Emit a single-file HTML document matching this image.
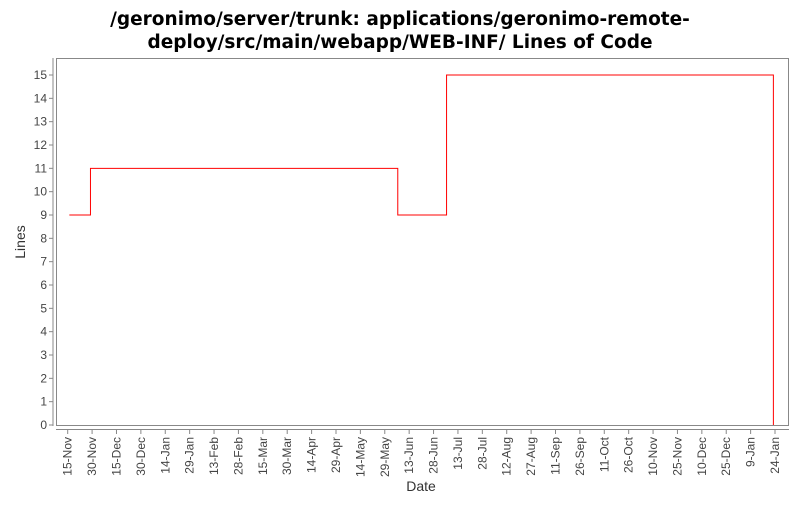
<!DOCTYPE html>
<html><head><meta charset="utf-8"><style>
body{margin:0;background:#fff;width:800px;height:500px;overflow:hidden;font-family:"Liberation Sans","DejaVu Sans",sans-serif}
</style></head><body>
<svg width="800" height="500" id="chart">
<text x="400" y="25" text-anchor="middle" font-size="18.5" font-weight="bold" font-family="'DejaVu Sans','Liberation Sans',sans-serif">/geronimo/server/trunk: applications/geronimo-remote-</text>
<text x="400" y="48" text-anchor="middle" font-size="18.5" font-weight="bold" font-family="'DejaVu Sans','Liberation Sans',sans-serif">deploy/src/main/webapp/WEB-INF/ Lines of Code</text>
<rect x="56.5" y="58.5" width="732" height="367" fill="#fff" stroke="#888"/>
<line x1="53" y1="58" x2="53" y2="426" stroke="#888"/>
<line x1="56" y1="429.5" x2="789" y2="429.5" stroke="#888"/>
<text transform="translate(25,242) rotate(-90)" text-anchor="middle" font-size="14" fill="#333">Lines</text>
<text x="421" y="491" text-anchor="middle" font-size="14" fill="#333">Date</text>
<g id="yt"></g><g id="xt"></g><g id="series"></g>
</svg>
<script>
const yTicks=[0,1,2,3,4,5,6,7,8,9,10,11,12,13,14,15];
const xTickLabels=["15-Nov","30-Nov","15-Dec","30-Dec","14-Jan","29-Jan","13-Feb","28-Feb","15-Mar","30-Mar","14-Apr","29-Apr","14-May","29-May","13-Jun","28-Jun","13-Jul","28-Jul","12-Aug","27-Aug","11-Sep","26-Sep","11-Oct","26-Oct","10-Nov","25-Nov","10-Dec","25-Dec","9-Jan","24-Jan"];
const dayOffsets=[1,14,203,233,434];
const locValues=[9,11,9,15,0];
const NS="http://www.w3.org/2000/svg";
const yS=v=>425-v*(350/15);
const xS=d=>67.7+d*(24.39/15);
function mk(t,a,p){const e=document.createElementNS(NS,t);for(const k in a)e.setAttribute(k,a[k]);p.appendChild(e);return e;}
const yt=document.getElementById('yt');
yTicks.forEach(v=>{
 const y=yS(v);
 const l=mk('line',{x1:49,x2:53,y1:y,y2:y,stroke:'#888'},yt);
 
 
 const t=mk('text',{x:47,y:y+4,'text-anchor':'end','font-size':12,fill:'#444'},yt);
 t.textContent=v;
 
 
});
const xt=document.getElementById('xt');
xTickLabels.forEach((s,i)=>{
 const x=xS(i*15);
 const l=mk('line',{x1:x,x2:x,y1:430,y2:434,stroke:'#888'},xt);
 
 
 const t=mk('text',{transform:`translate(${x+4},437) rotate(-90)`,'text-anchor':'end','font-size':12,fill:'#444'},xt);
 t.textContent=s;
 
 
});
let d='';
dayOffsets.forEach((dd,i)=>{
 const x=xS(dd),y=yS(locValues[i]);
 if(i===0)d+=`M${x},${y}`;else d+=`H${x}V${y}`;
});
const p=mk('path',{d:d,fill:'none',stroke:'#ff0000','stroke-width':1},document.getElementById('series'));


</script>
</body></html>
